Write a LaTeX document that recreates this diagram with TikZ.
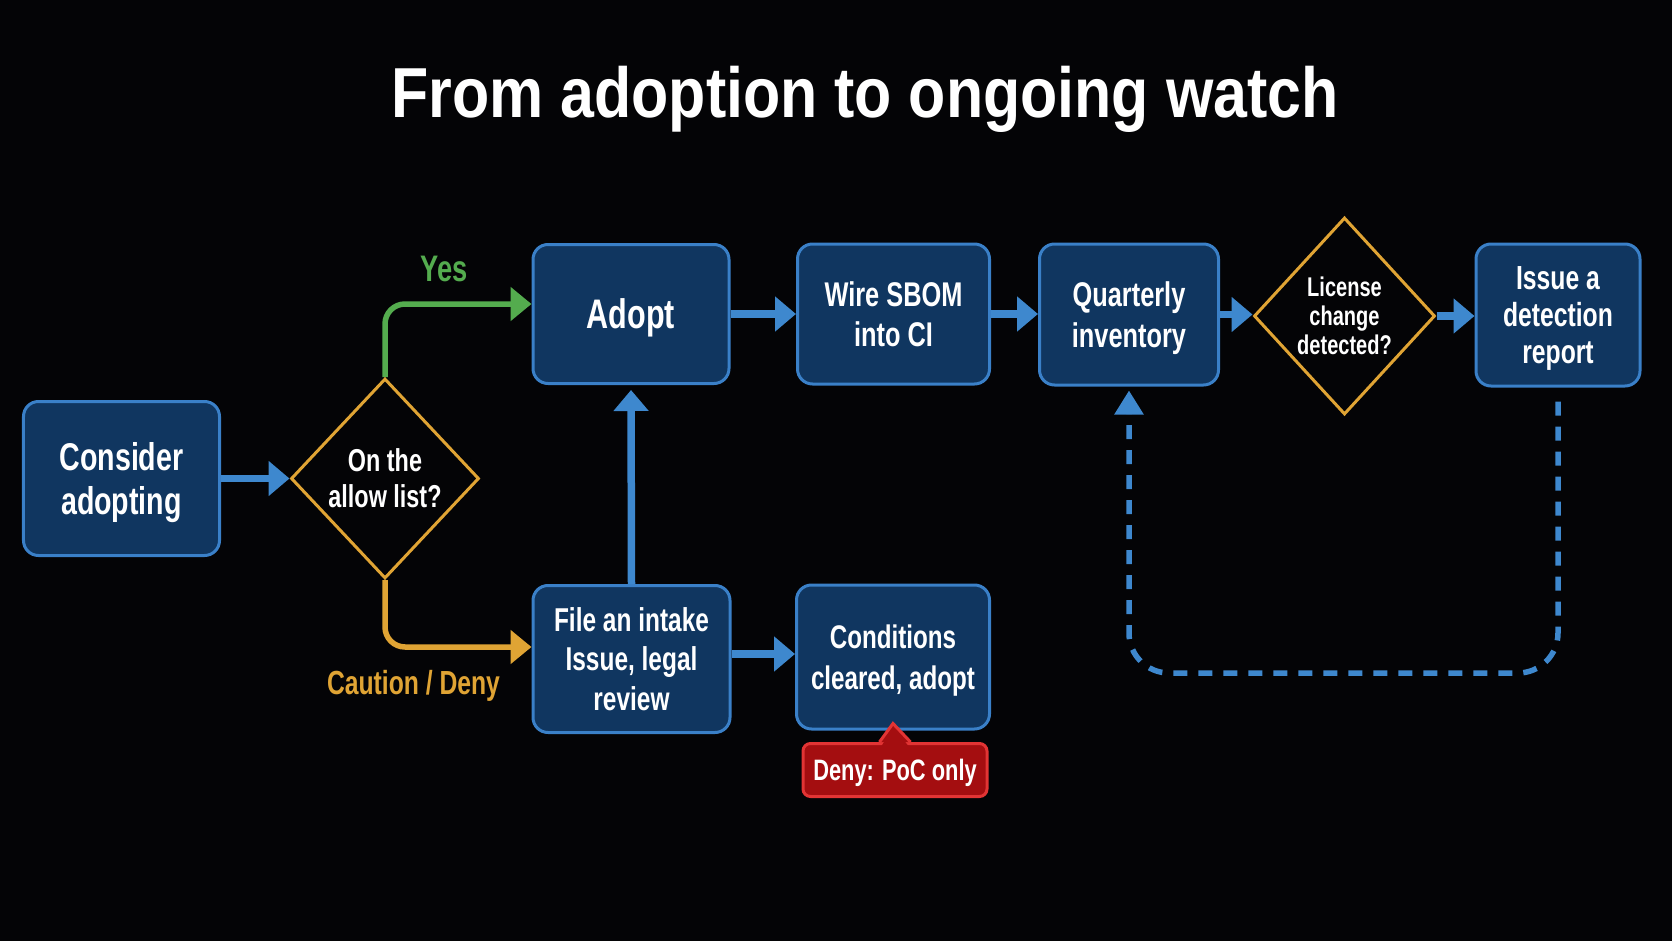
\documentclass[tikz,border=0pt]{standalone}
\usepackage{fontspec}
\setmainfont[FakeStretch=0.74]{Liberation Sans}
\newfontfamily\titlefont[FakeStretch=0.86]{Liberation Sans}
\usetikzlibrary{arrows.meta}
\usetikzlibrary{calc}
\usetikzlibrary{shapes.geometric}
\tikzset{>=latex}
\definecolor{slidebg}{RGB}{4,4,6}
\definecolor{boxfill}{RGB}{16,54,96}
\definecolor{boxline}{RGB}{58,128,200}
\definecolor{flowblue}{RGB}{62,136,206}
\definecolor{askorange}{RGB}{224,164,52}
\definecolor{yesgreen}{RGB}{84,172,78}
\definecolor{denyfill}{RGB}{164,14,16}
\definecolor{denyline}{RGB}{226,52,52}
\tikzstyle{stepbox}=[draw=boxline,fill=boxfill,line width=0.06cm,rounded corners=0.3cm,
  text=white,align=center,inner sep=0pt,text depth=0pt,font=\bfseries\fontsize{19.5}{23}\selectfont]
\tikzstyle{askbox}=[diamond,draw=askorange,fill=slidebg,line width=0.06cm,
  text=white,align=center,inner sep=0pt]
\tikzstyle{flowline}=[draw=flowblue,line width=0.15cm,-{Triangle[length=0.42cm,width=0.68cm]}]
\tikzstyle{yesline}=[draw=yesgreen,line width=0.11cm,rounded corners=0.4cm,-{Triangle[length=0.42cm,width=0.66cm]}]
\tikzstyle{cautionline}=[draw=askorange,line width=0.11cm,rounded corners=0.4cm,-{Triangle[length=0.42cm,width=0.66cm]}]
\tikzstyle{loopline}=[draw=flowblue,line width=0.11cm,dash pattern=on 0.28cm off 0.22cm,
  rounded corners=0.8cm,-{Triangle[length=0.48cm,width=0.56cm]}]

\begin{document}
\begin{tikzpicture}
  \fill[slidebg] (0,0) rectangle (33.44,-18.82);
  \useasboundingbox (0,0) rectangle (33.44,-18.82);

  \node[anchor=base,text=white,font=\titlefont\bfseries\fontsize{40.3}{44}\selectfont]
    (title) at (17.30,-2.35) {From adoption to ongoing watch};

  % left part
  \node[stepbox,minimum width=3.92cm,minimum height=3.08cm,font=\bfseries\fontsize{22}{25.4}\selectfont]
    (consider) at (2.43,-9.57) {Consider\\adopting};
  \node[askbox,minimum width=3.76cm,minimum height=4.0cm,font=\bfseries\fontsize{18}{20.5}\selectfont]
    (allow) at (7.70,-9.57) {On the\\allow list?};

  % top row
  \node[stepbox,minimum width=3.92cm,minimum height=2.78cm,font=\bfseries\fontsize{23.5}{26}\selectfont]
    (adopt) at (12.62,-6.28) {Adopt};
  \node[stepbox,minimum width=3.84cm,minimum height=2.80cm] (wire) at (17.87,-6.28) {Wire SBOM\\into CI};
  \node[stepbox,minimum width=3.58cm,minimum height=2.82cm] (quarterly) at (22.58,-6.29) {Quarterly\\inventory};
  \node[askbox,minimum width=3.62cm,minimum height=3.94cm,font=\bfseries\fontsize{15.4}{16.6}\selectfont]
    (license) at (26.89,-6.32) {License\\change\\detected?};
  \node[stepbox,minimum width=3.28cm,minimum height=2.84cm,text depth=-3pt,font=\bfseries\fontsize{19}{21.2}\selectfont]
    (report) at (31.16,-6.30) {Issue a\\detection\\report};

  % bottom row
  \node[stepbox,minimum width=3.94cm,minimum height=2.94cm,font=\bfseries\fontsize{18.8}{22.7}\selectfont]
    (intake) at (12.63,-13.18) {File an intake\\Issue, legal\\review};
  \node[stepbox,minimum width=3.86cm,minimum height=2.88cm,font=\bfseries\fontsize{18.6}{23}\selectfont]
    (cleared) at (17.86,-13.14) {Conditions\\cleared, adopt};
  \node[draw=denyline,fill=denyfill,line width=0.06cm,rounded corners=0.15cm,text=white,
    minimum width=3.68cm,minimum height=1.06cm,inner sep=0pt,text depth=0pt,font=\bfseries\fontsize{16.8}{19}\selectfont]
    (deny) at (17.90,-15.40) {Deny: PoC only};
  \filldraw[draw=denyline,fill=denyfill,line width=0.06cm,line join=miter]
    ([xshift=-0.31cm]deny.north) -- ([yshift=0.14cm]cleared.south) -- ([xshift=0.31cm]deny.north);
  \fill[denyfill] ([xshift=-0.27cm,yshift=-0.08cm]deny.north) -- ([yshift=0.06cm]cleared.south)
    -- ([xshift=0.27cm,yshift=-0.08cm]deny.north) -- cycle;

  % labels
  \node[text=yesgreen,font=\bfseries\fontsize{21}{24}\selectfont] (yes) at (8.89,-5.37) {Yes};
  \node[text=askorange,font=\bfseries\fontsize{19}{22}\selectfont] (caution) at (8.27,-13.71) {Caution / Deny};

  % connectors
  \draw[flowline] (consider.east) -- (allow.west);
  \draw[yesline] (allow.north) |- ([yshift=0.2cm]adopt.west);
  \draw[cautionline] (allow.south) |- ([yshift=0.24cm]intake.west);
  \draw[flowline,shorten >=0.1cm] (intake.north) -- (adopt.south);
  \draw[flowline] ([yshift=0.1cm]intake.east) -- ([yshift=0.1cm]intake.east -| cleared.west);
  \draw[flowline] (adopt.east) -- (adopt.east -| wire.west);
  \draw[flowline] (wire.east) -- (wire.east -| quarterly.west);
  \draw[flowline] (quarterly.east) -- (quarterly.east -| license.west);
  \draw[flowline] (license.east) -- (license.east -| report.west);

  \coordinate (loop) at (26.9,-13.46);
  \draw[loopline,shorten >=0.08cm] ([yshift=-0.28cm]report.south) |- (loop) -| (quarterly.south);
\end{tikzpicture}
\end{document}
